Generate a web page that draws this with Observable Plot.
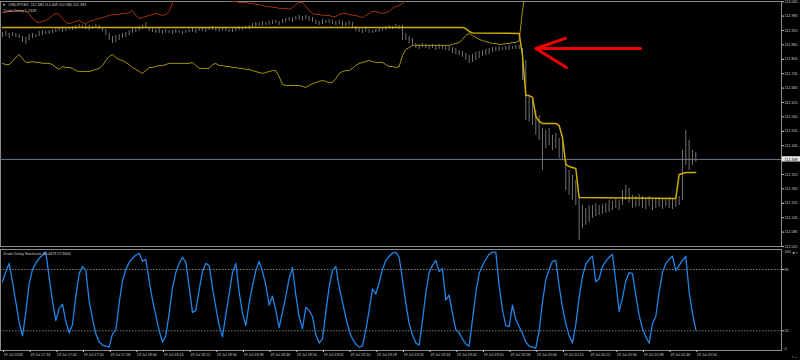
<!DOCTYPE html>
<html><head><meta charset="utf-8">
<script src="https://cdn.jsdelivr.net/npm/d3@7"></script>
<script src="https://cdn.jsdelivr.net/npm/@observablehq/plot@0.6"></script>
<style>
html,body{margin:0;padding:0;background:#000;}
#chart{position:relative;width:800px;height:360px;background:#000;overflow:hidden;}
#chart svg{position:absolute;left:0;}
</style></head><body><div id="chart"></div>
<script>
const timeLabels = ["19 Jul 2018","19 Jul 17:34","19 Jul 17:42","19 Jul 17:50","19 Jul 17:58","19 Jul 18:06","19 Jul 18:14","19 Jul 18:22","19 Jul 18:30","19 Jul 18:38","19 Jul 18:46","19 Jul 18:54","19 Jul 19:02","19 Jul 19:10","19 Jul 19:18","19 Jul 19:26","19 Jul 19:34","19 Jul 19:42","19 Jul 19:50","19 Jul 19:58","19 Jul 20:06","19 Jul 20:14","19 Jul 20:22","19 Jul 20:30","19 Jul 20:38","19 Jul 20:46","19 Jul 20:54"];
const priceTicks = [113.045,112.985,112.925,112.865,112.805,112.745,112.685,112.625,112.565,112.505,112.445,112.385,112.325,112.265,112.205,112.145,112.085,112.025];
const stochLevels = [20,80];
const stochMidTicks = [20,80];
const stochTopTick = [100];
const stochBottomTick = [0];
const currentPrice = 112.388;
const titleText = "USDJPY,M1  112.380 112.409 112.380 112.393";
const indText = "Drake Delay 1.2328";
const stochText = "Drake Delay Stochastic 85.4478 57.9604";

const highs = [112.917,112.921,112.913,112.917,112.913,112.908,112.900,112.896,112.908,112.913,
112.908,112.921,112.925,112.921,112.925,112.929,112.933,112.933,112.938,112.933,
112.938,112.942,112.946,112.950,112.946,112.950,112.946,112.942,112.950,112.946,
112.938,112.929,112.913,112.900,112.904,112.908,112.913,112.917,112.925,112.933,
112.938,112.942,112.946,112.958,112.938,112.933,112.929,112.933,112.925,112.929,
112.925,112.925,112.929,112.925,112.921,112.925,112.929,112.933,112.929,112.933,
112.938,112.933,112.938,112.942,112.933,112.933,112.938,112.933,112.929,112.933,
112.938,112.942,112.938,112.942,112.946,112.954,112.958,112.958,112.963,112.958,
112.963,112.967,112.967,112.963,112.971,112.975,112.979,112.979,112.983,112.988,
112.983,112.988,112.983,112.979,112.967,112.963,112.971,112.967,112.971,112.967,
112.963,112.967,112.963,112.958,112.963,112.958,112.942,112.933,112.929,112.933,
112.929,112.925,112.929,112.933,112.938,112.942,112.946,112.942,112.950,112.946,
112.946,112.913,112.900,112.892,112.871,112.867,112.871,112.867,112.863,112.867,
112.863,112.867,112.863,112.858,112.858,112.854,112.850,112.842,112.838,112.829,
112.821,112.825,112.833,112.838,112.842,112.846,112.850,112.854,112.854,112.858,
112.854,112.858,112.863,112.858,112.863,112.863,112.850,112.800,112.654,112.633,
112.592,112.571,112.517,112.508,112.517,112.488,112.496,112.475,112.467,112.383,
112.342,112.321,112.300,112.238,112.196,112.183,112.196,112.196,112.204,112.196,
112.200,112.204,112.217,112.213,112.221,112.217,112.258,112.279,112.267,112.238,
112.233,112.242,112.233,112.225,112.233,112.225,112.221,112.229,112.221,112.225,
112.229,112.221,112.225,112.233,112.425,112.508,112.467,112.425,112.417];
const lows = [112.896,112.900,112.892,112.900,112.896,112.892,112.875,112.867,112.883,112.892,
112.896,112.900,112.904,112.908,112.908,112.913,112.917,112.921,112.917,112.921,
112.925,112.925,112.929,112.933,112.933,112.929,112.925,112.929,112.933,112.929,
112.921,112.904,112.883,112.871,112.875,112.883,112.892,112.896,112.904,112.913,
112.917,112.921,112.929,112.933,112.921,112.917,112.913,112.913,112.908,112.913,
112.913,112.908,112.913,112.913,112.908,112.913,112.917,112.917,112.913,112.921,
112.921,112.917,112.925,112.925,112.921,112.917,112.921,112.921,112.917,112.917,
112.921,112.925,112.925,112.929,112.929,112.933,112.938,112.942,112.942,112.946,
112.946,112.950,112.954,112.946,112.954,112.958,112.963,112.958,112.967,112.967,
112.963,112.971,112.963,112.958,112.950,112.946,112.950,112.954,112.954,112.950,
112.946,112.950,112.942,112.942,112.946,112.938,112.921,112.917,112.913,112.917,
112.913,112.913,112.917,112.917,112.921,112.925,112.929,112.929,112.933,112.929,
112.883,112.883,112.871,112.863,112.850,112.846,112.854,112.850,112.846,112.850,
112.842,112.846,112.846,112.842,112.838,112.829,112.825,112.821,112.813,112.800,
112.788,112.792,112.800,112.808,112.817,112.821,112.825,112.833,112.838,112.838,
112.842,112.842,112.842,112.846,112.846,112.846,112.717,112.550,112.542,112.529,
112.488,112.467,112.342,112.433,112.446,112.425,112.433,112.392,112.383,112.258,
112.238,112.217,112.196,112.050,112.100,112.113,112.125,112.142,112.150,112.154,
112.158,112.163,112.167,112.175,112.183,112.175,112.196,112.217,112.204,112.183,
112.188,112.192,112.183,112.179,112.192,112.175,112.183,112.188,112.179,112.192,
112.183,112.179,112.188,112.196,112.217,112.363,112.342,112.363,112.375];

const upperBars = [0,138,139,140,141,155,156,157,158,159,160,161,162,166,167,168,169,170,171,172,173,202,203,204,205,208];
const upperVals = [112.938,112.938,112.933,112.921,112.915,112.913,112.821,112.654,112.654,112.646,112.567,112.546,112.538,112.538,112.529,112.479,112.367,112.358,112.354,112.350,112.229,112.225,112.325,112.329,112.333,112.333];

const lowerBand = [112.788,112.783,112.783,112.796,112.813,112.825,112.808,112.792,112.792,112.796,
112.792,112.792,112.788,112.788,112.788,112.783,112.771,112.763,112.775,112.771,
112.771,112.767,112.758,112.754,112.754,112.754,112.754,112.758,112.763,112.767,
112.779,112.800,112.817,112.825,112.813,112.804,112.800,112.792,112.783,112.771,
112.763,112.754,112.746,112.758,112.771,112.771,112.775,112.779,112.779,112.783,
112.788,112.788,112.788,112.788,112.788,112.788,112.788,112.792,112.779,112.767,
112.767,112.767,112.767,112.783,112.788,112.779,112.779,112.775,112.775,112.771,
112.771,112.767,112.767,112.763,112.763,112.758,112.754,112.750,112.746,112.750,
112.754,112.758,112.758,112.733,112.700,112.696,112.696,112.696,112.696,112.696,
112.692,112.688,112.696,112.704,112.708,112.713,112.717,112.713,112.708,112.708,
112.725,112.746,112.754,112.758,112.758,112.767,112.779,112.788,112.792,112.796,
112.800,112.796,112.792,112.792,112.792,112.783,112.775,112.775,112.771,112.775,
112.821,112.846,112.854,112.863,112.863,112.863,112.863,112.863,112.863,112.863,
112.863,112.863,112.863,112.863,112.863,112.867,112.871,112.875,112.888,112.904,
112.913,112.904,112.896,112.888,112.883,112.879,112.875,112.871,112.871,112.867,
112.867,112.871,112.871,112.875,112.875,112.883,113.008,113.092];

const redLine = [113.000,113.000,113.004,113.004,113.008,113.008,113.008,113.004,112.996,112.975,
112.963,112.958,112.963,112.967,112.975,112.988,112.996,112.992,112.975,112.958,
112.954,112.958,112.963,112.967,112.958,112.954,112.963,112.967,112.971,112.975,
112.979,112.983,112.988,112.992,112.992,112.992,112.996,112.996,113.000,113.008,
112.988,112.975,112.979,112.983,112.988,112.992,112.996,112.992,112.988,112.992,
113.004,113.042,113.071,113.08,113.09,113.10,113.10,113.11,113.11,113.10,
113.10,113.09,113.09,113.08,113.08,113.07,113.07,113.06,113.054,113.046,
113.046,113.042,113.042,113.042,113.038,113.038,113.033,113.033,113.029,113.025,
113.025,113.021,113.021,113.017,113.017,113.017,113.013,113.021,113.033,113.042,
113.042,113.025,113.008,112.996,112.992,112.992,112.988,112.988,112.988,112.983,
112.983,112.992,112.996,112.996,112.992,112.988,112.988,112.983,112.979,112.988,
112.996,113.004,113.004,113.000,112.996,113.000,113.004,113.017,113.025,113.029,
113.038,113.050,113.063];

const stoch = [68,78,86,68,48,28,15,38,66,80,
86,91,94,97,72,49,30,42,46,29,
18,26,54,76,83,79,49,32,17,9,
6,5,4,17,21,47,69,80,87,91,
94,96,88,90,69,50,35,20,9,15,
37,62,77,86,92,87,63,38,40,60,
78,86,84,62,43,25,14,36,56,77,
86,58,37,25,47,64,79,88,78,65,
45,54,40,23,38,54,71,82,55,34,
22,43,40,34,16,8,12,38,63,79,
83,63,48,33,20,12,7,4,5,21,
40,61,56,67,80,89,93,96,97,92,
70,47,27,16,8,6,30,57,77,84,
89,78,81,50,55,37,21,18,12,7,
5,31,57,76,84,90,95,97,97,64,
41,25,24,45,31,24,17,9,5,4,
3,20,48,70,80,88,89,64,43,27,
15,8,26,53,73,85,90,93,68,71,
83,88,92,95,68,39,52,69,77,76,
55,35,22,14,8,27,34,58,77,86,
90,93,79,84,89,93,58,37,21];

const arrowShaftX = [191.4,160];
const arrowShaftP = [112.85,112.85];
const arrowHeadX = [168.9,160,169.2];
const arrowHeadP = [112.892,112.85,112.771];

// ---- build tables ----
const bars = highs.map((h,i)=>({i, high:h, low:lows[i]}));
const upper = upperBars.map((b,k)=>({i:b, v:upperVals[k]}));
const lower = lowerBand.map((v,i)=>({i, v}));
const red = redLine.map((v,i)=>({i, v}));
const st = stoch.map((v,i)=>({i, v}));
const shaft = arrowShaftX.map((x,k)=>({i:x, v:arrowShaftP[k]}));
const head = arrowHeadX.map((x,k)=>({i:x, v:arrowHeadP[k]}));
const timeTicks = timeLabels.map((_,k)=>k*8);

const FONT = "'Liberation Sans', Arial, sans-serif";
const FS = 3.7;
const xOpt = {domain:[0,208], range:[2,695.3], axis:null};
const labelColor = "#c8c8c8";
const frameColor = "#8a8a8a";

const main = Plot.plot({
  width:800, height:248, marginLeft:0, marginRight:19, marginTop:1, marginBottom:2,
  style:{background:"transparent", fontFamily:FONT},
  x:xOpt,
  y:{domain:[112.025,113.045], range:[246,1.2], axis:null},
  marks:[
    Plot.frame({stroke:frameColor}),
    Plot.ruleY([currentPrice], {stroke:"#6c7c8c", strokeWidth:1}),
    Plot.ruleX(bars, {x:"i", y1:"low", y2:"high", stroke:"#727272", strokeWidth:1}),
    Plot.line(red, {x:"i", y:"v", stroke:"#a8300c", strokeWidth:1, clip:true}),
    Plot.line(lower, {x:"i", y:"v", stroke:"#a89400", strokeWidth:1, clip:true}),
    Plot.line(upper, {x:"i", y:"v", stroke:"#d0ac00", strokeWidth:1.5, clip:true}),
    Plot.line(shaft, {x:"i", y:"v", stroke:"#ee0000", strokeWidth:3}),
    Plot.line(head, {x:"i", y:"v", stroke:"#ee0000", strokeWidth:3, strokeLinejoin:"miter"}),
    Plot.axisY(priceTicks, {anchor:"right", tickSize:2, tickPadding:1, fontSize:FS, stroke:labelColor, fill:labelColor, tickFormat:d=>d.toFixed(3)}),
    Plot.rect([currentPrice], {x1:233.95, x2:240, y1:d=>d-0.011, y2:d=>d+0.011, fill:"#e8e8e8"}),
    Plot.text([currentPrice], {x:234.6, y:d=>d, text:d=>d.toFixed(3), textAnchor:"start", fill:"#000", fontSize:FS}),
    Plot.text(["\u25BE"], {frameAnchor:"top-left", dx:2, dy:1.5, fill:"#e0e0e0", fontSize:4}),
    Plot.text([titleText], {frameAnchor:"top-left", dx:8, dy:2, fill:"#d0d0d0", fontSize:FS}),
    Plot.text([indText], {frameAnchor:"top-left", dx:3, dy:8, fill:"#d0d0d0", fontSize:FS})
  ]
});
main.style.top = "0px";

const sub = Plot.plot({
  width:800, height:112, marginLeft:0, marginRight:19, marginTop:1, marginBottom:10,
  style:{background:"transparent", fontFamily:FONT},
  x:xOpt,
  y:{domain:[0,100], range:[102.7,0.6], axis:null},
  marks:[
    Plot.frame({stroke:frameColor}),
    Plot.ruleY(stochLevels, {stroke:"#9a9a9a", strokeDasharray:"1.5,1.5", strokeWidth:0.8}),
    Plot.line(st, {x:"i", y:"v", stroke:"#1f84e6", strokeWidth:1.3}),
    Plot.axisY(stochMidTicks, {anchor:"right", tickSize:2, tickPadding:1, fontSize:FS, stroke:labelColor, fill:labelColor}),
    Plot.axisY(stochTopTick, {anchor:"right", tickSize:0, tickPadding:3, dy:2.5, fontSize:FS, fill:labelColor}),
    Plot.axisY(stochBottomTick, {anchor:"right", tickSize:0, tickPadding:3, dy:-2.5, fontSize:FS, fill:labelColor}),
    Plot.axisX(timeTicks, {anchor:"bottom", tickSize:2, tickPadding:1, fontSize:FS, textAnchor:"start", dx:1, stroke:labelColor, fill:labelColor, tickFormat:d=>timeLabels[d/8]}),
    Plot.text([stochText], {frameAnchor:"top-left", dx:3, dy:3, fill:"#d0d0d0", fontSize:FS})
  ]
});
sub.style.top = "248px";

document.getElementById("chart").append(main, sub);
</script>
</body></html>
